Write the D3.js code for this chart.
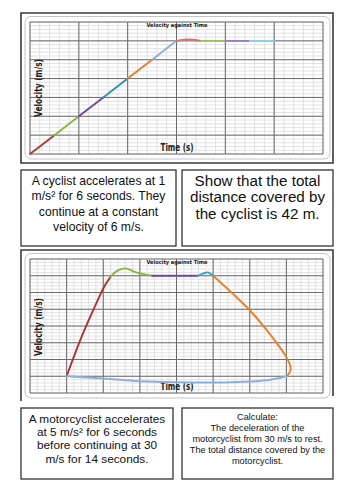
<!DOCTYPE html>
<html>
<head>
<meta charset="utf-8">
<script src="https://cdn.jsdelivr.net/npm/d3@7"></script>
<style>
    body { margin: 0; background: #fff; }
    svg { display: block; }
</style>
</head>
<body>
<div id="sheet"></div>
<script>
// Data - graph 1 (cyclist), one array per coloured piece of the line
let cyclistTimes = [[0, 1], [1, 2], [2, 3], [3, 4], [4, 5], [5, 6], [6, 6.5, 7], [7, 8], [8, 9], [9, 10]];
let cyclistVels  = [[0, 1], [1, 2], [2, 3], [3, 4], [4, 5], [5, 6], [6, 6.07, 6], [6, 6], [6, 6], [6, 6]];

// Data - graph 2 (motorcyclist)
let motoTimes = [
    [0, 2, 4, 5.2, 6],
    [6, 7, 8, 9.5, 11.7],
    [11.7, 17.9],
    [17.9, 18.7, 19.3, 20],
    [20, 22.6, 25, 28.1, 30, 30.6, 30.3, 30],
    [30, 27.3, 22.6, 15, 10, 4.5, 0]
];
let motoVels = [
    [0, 11.5, 21.5, 27, 29.7],
    [29.7, 31.6, 32.2, 31, 30],
    [30, 30],
    [30, 30.7, 31, 30],
    [30, 24.8, 19.7, 11.6, 5.7, 2.4, 0.6, 0],
    [0, -1.2, -1.8, -1.8, -1.5, -0.6, 0]
];

// card texts
let cardA = ["A cyclist accelerates at 1", "m/s\u00b2 for 6 seconds. They", "continue at a constant", "velocity of 6 m/s."];
let cardB = ["Show that the total", "distance covered by", "the cyclist is 42 m."];
let cardC = ["A motorcyclist accelerates", "at 5 m/s\u00b2 for 6 seconds", "before continuing at 30", "m/s for 14 seconds."];
let cardD = ["Calculate:", "The deceleration of the", "motorcyclist from 30 m/s to rest.", "The total distance covered by the", "motorcyclist."];

let cyclistColors = ["#b23a36", "#8db43f", "#6d4a9c", "#2b93b3", "#e67e2b", "#8eaedc", "#d27474", "#9cc35b", "#9a7cc0", "#8fd0e2"];
let motoColors = ["#b0312e", "#8db43f", "#7247a8", "#35a3c4", "#ec7f26", "#8eaedc"];

let svg = d3.select("#sheet").append("svg")
    .attr("width", 354)
    .attr("height", 500);

function drawGraph(cfg) {
    let g = svg.append("g");

    // outer dark frame + inner rounded frame
    g.append("path")
        .attr("d", cfg.frame)
        .attr("fill", "none")
        .attr("stroke", "#3a3a3a")
        .attr("stroke-width", 1.6);
    g.append("rect")
        .attr("x", 25).attr("y", cfg.top - 5.5)
        .attr("width", 305).attr("height", cfg.bottom - cfg.top + 10.5)
        .attr("rx", 6)
        .attr("fill", "none")
        .attr("stroke", "#c4c4c4")
        .attr("stroke-width", 1);

    let x = d3.scaleLinear().domain(cfg.xDomain).range([30, 323]);
    let y = d3.scaleLinear().domain(cfg.yDomain).range([cfg.bottom, cfg.top]);

    let xMinor = d3.range(cfg.xDomain[0], cfg.xDomain[1] + 1e-6, cfg.xStep / 5);
    let yMinor = d3.range(cfg.yDomain[0], cfg.yDomain[1] + 1e-6, cfg.yStep / 5);
    let xMajor = d3.range(cfg.xDomain[0], cfg.xDomain[1] + 1e-6, cfg.xStep);
    let yMajor = d3.range(cfg.yDomain[0], cfg.yDomain[1] + 1e-6, cfg.yStep);

    g.selectAll(".vminor").data(xMinor).enter().append("line")
        .attr("x1", d => x(d)).attr("x2", d => x(d))
        .attr("y1", cfg.top).attr("y2", cfg.bottom)
        .attr("stroke", "#dadada").attr("stroke-width", 0.8);
    g.selectAll(".hminor").data(yMinor).enter().append("line")
        .attr("y1", d => y(d)).attr("y2", d => y(d))
        .attr("x1", 30).attr("x2", 323)
        .attr("stroke", "#dadada").attr("stroke-width", 0.8);
    g.selectAll(".vmajor").data(xMajor).enter().append("line")
        .attr("x1", d => x(d)).attr("x2", d => x(d))
        .attr("y1", cfg.top).attr("y2", cfg.bottom)
        .attr("stroke", "#6a6a6a").attr("stroke-width", 1);
    g.selectAll(".hmajor").data(yMajor).enter().append("line")
        .attr("y1", d => y(d)).attr("y2", d => y(d))
        .attr("x1", 30).attr("x2", 323)
        .attr("stroke", "#6a6a6a").attr("stroke-width", 1);

    // labels
    g.append("text")
        .attr("x", 177).attr("y", cfg.top + 5)
        .attr("text-anchor", "middle")
        .attr("font-family", "DejaVu Sans")
        .attr("font-weight", "bold")
        .attr("font-size", 5.5)
        .attr("textLength", 61).attr("lengthAdjust", "spacingAndGlyphs")
        .attr("fill", "#222")
        .text("Velocity against Time");
    g.append("text")
        .attr("x", 177).attr("y", cfg.bottom - 3)
        .attr("text-anchor", "middle")
        .attr("font-family", "DejaVu Sans")
        .attr("font-weight", "bold")
        .attr("font-size", 10)
        .attr("textLength", 33).attr("lengthAdjust", "spacingAndGlyphs")
        .attr("fill", "#222")
        .text("Time (s)");
    g.append("text")
        .attr("transform", `translate(41.5, ${cfg.yLabel}) rotate(-90)`)
        .attr("text-anchor", "middle")
        .attr("font-family", "DejaVu Sans")
        .attr("font-weight", "bold")
        .attr("font-size", 10)
        .attr("textLength", 58).attr("lengthAdjust", "spacingAndGlyphs")
        .attr("fill", "#222")
        .text("Velocity (m/s)");

    let line = d3.line()
        .x(d => x(d[0]))
        .y(d => y(d[1]))
        .curve(d3.curveCatmullRom.alpha(0.5));

    cfg.times.forEach(function (ts, i) {
        let pts = ts.map((t, j) => [t, cfg.vels[i][j]]);
        g.append("path")
            .attr("d", line(pts))
            .attr("fill", "none")
            .attr("stroke", cfg.colors[i])
            .attr("stroke-width", 1.9)
            .attr("stroke-linecap", "round");
    });
}

function drawCard(x0, y0, w, h, lines, size, first, gap) {
    svg.append("rect")
        .attr("x", x0).attr("y", y0)
        .attr("width", w).attr("height", h)
        .attr("fill", "#fff")
        .attr("stroke", "#333")
        .attr("stroke-width", 1.3);
    svg.selectAll(null).data(lines).enter().append("text")
        .attr("x", x0 + w / 2)
        .attr("y", (d, i) => first + i * gap)
        .attr("text-anchor", "middle")
        .attr("font-family", "Liberation Sans, Arial, sans-serif")
        .attr("font-size", size)
        .attr("fill", "#111")
        .text(d => d);
}

drawGraph({
    frame: "M21,163 V13 H333 V163 Z",
    top: 22, bottom: 154,
    xDomain: [0, 12], xStep: 2,
    yDomain: [0, 7], yStep: 1,
    yLabel: 88,
    times: cyclistTimes, vels: cyclistVels, colors: cyclistColors
});

drawGraph({
    frame: "M21,401 V250 H333 V396",
    top: 259, bottom: 393,
    xDomain: [-5, 35], xStep: 5,
    yDomain: [-5, 35], yStep: 5,
    yLabel: 327,
    times: motoTimes, vels: motoVels, colors: motoColors
});

drawCard(21, 170, 155, 76, cardA, 12.2, 185, 15.4);
drawCard(182, 170, 151, 76, cardB, 15.2, 185.5, 16.7);
drawCard(21, 408, 152, 71, cardC, 11.8, 422.5, 13.4);
drawCard(182, 408, 151, 71, cardD, 9.2, 420, 11);
</script>
</body>
</html>
